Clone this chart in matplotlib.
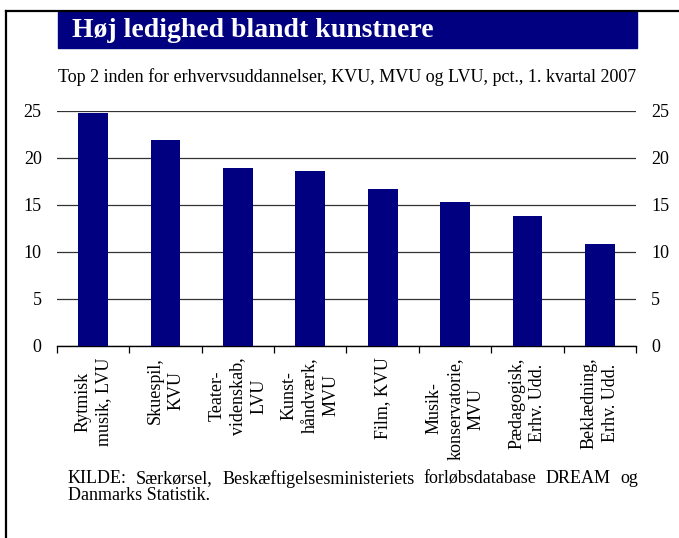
#!/usr/bin/env python

from matplotlib import pyplot as plt
from matplotlib.patches import Rectangle
from matplotlib.lines import Line2D

categories = [
    "Rytmisk\nmusik, LVU",
    "Skuespil,\nKVU",
    "Teater-\nvidenskab,\nLVU",
    "Kunst-\nhåndværk,\nMVU",
    "Film, KVU",
    "Musik-\nkonservatorie,\nMVU",
    "Pædagogisk,\nErhv. Udd.",
    "Beklædning,\nErhv. Udd.",
]
values = [24.8, 21.9, 18.9, 18.6, 16.7, 15.3, 13.8, 10.9]
yticks = [0, 5, 10, 15, 20, 25]

title = "Høj ledighed blandt kunstnere"
subtitle = "Top 2 inden for erhvervsuddannelser, KVU, MVU og LVU, pct., 1. kvartal 2007"
source_line1 = "KILDE: Særkørsel, Beskæftigelsesministeriets forløbsdatabase DREAM og"
source_line2 = "Danmarks Statistik."

NAVY = "#000080"
FONT = "Liberation Serif"


def justify(fig, text, x0, x1, y, **kw):
    # spread words so the line fills x0..x1 (figure fraction)
    renderer = fig.canvas.get_renderer()
    words = text.split()
    items = [fig.text(0, y, w, **kw) for w in words]
    widths = [t.get_window_extent(renderer).width / fig.bbox.width for t in items]
    gap = (x1 - x0 - sum(widths)) / (len(words) - 1)
    x = x0
    for t, w in zip(items, widths):
        t.set_x(x)
        x += w + gap


def main():
    plt.rcParams["font.family"] = [FONT, "DejaVu Serif"]
    fig = plt.figure(figsize=(6.79, 5.38), dpi=100)

    # frame lines (left and top)
    fig.add_artist(Line2D([0.009, 0.009], [0.0, 0.9796], color="black", lw=1.6,
                          transform=fig.transFigure))
    fig.add_artist(Line2D([0.009, 1.0], [0.9796, 0.9796], color="black", lw=1.6,
                          transform=fig.transFigure))

    # title box
    fig.add_artist(Rectangle((0.0854, 0.9108), 0.853, 0.0669, color=NAVY,
                             transform=fig.transFigure))
    fig.text(0.106, 0.9435, title, color="white", fontsize=20, fontweight="bold",
             va="center", ha="left")
    fig.text(0.0854, 0.857, subtitle, fontsize=13, va="center", ha="left")

    ax = fig.add_axes([0.0839, 0.3569, 0.8528, 0.4368])
    x = list(range(len(categories)))
    ax.bar(x, values, width=0.41, color=NAVY, zorder=3)
    ax.set_xlim(-0.5, len(categories) - 0.5)
    ax.set_ylim(0, 25)
    ax.set_yticks(yticks)
    ax.tick_params(axis="y", length=0, labelsize=13, pad=11,
                   labelleft=True, labelright=True)
    ax.grid(axis="y", color="#333333", lw=0.9, zorder=1)

    ax.set_xticks([i - 0.5 for i in range(len(categories) + 1)])
    ax.set_xticklabels([])
    ax.tick_params(axis="x", direction="out", length=5, width=0.9, color="black")
    for i, c in enumerate(categories):
        ax.text(i, -1.2, c, rotation=90, ha="center", va="top",
                multialignment="center", fontsize=13, linespacing=1.3)

    for s in ["top", "left", "right"]:
        ax.spines[s].set_visible(False)
    ax.spines["bottom"].set_linewidth(1.0)

    justify(fig, source_line1, 0.1, 0.9396, 0.110, fontsize=13, va="center")
    fig.text(0.1, 0.079, source_line2, fontsize=13, va="center", ha="left")

    fig.savefig("out.png", dpi=100)


if __name__ == "__main__":
    main()
